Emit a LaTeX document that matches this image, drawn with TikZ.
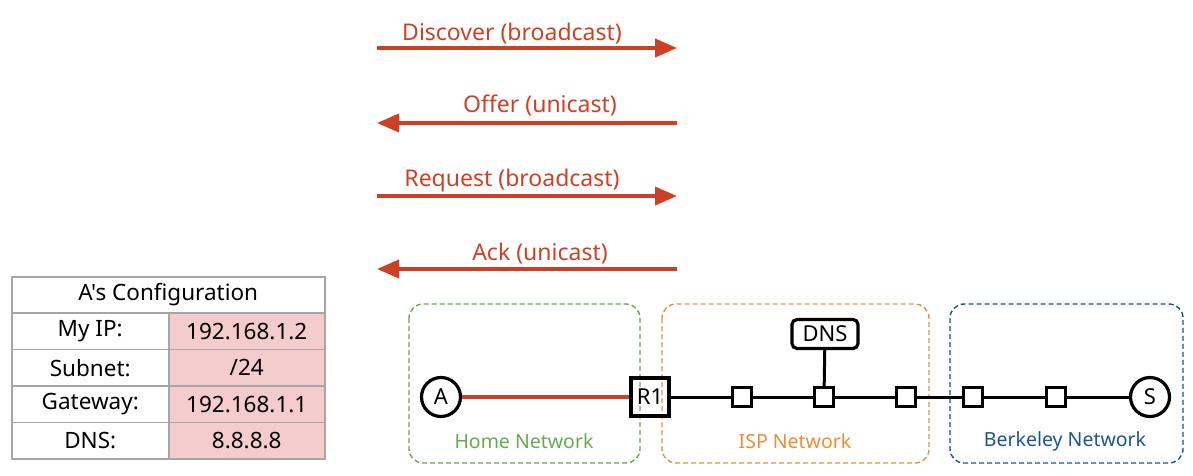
\documentclass[tikz,border=0pt]{standalone}
\usepackage{fontspec}
\setmainfont{Noto Sans}[Ligatures=TeXOff]
\usetikzlibrary{arrows.meta}
\definecolor{msgred}{HTML}{CC4125}
\definecolor{homegreen}{HTML}{6AA84F}
\definecolor{ispor}{HTML}{E69138}
\definecolor{berkblue}{HTML}{1C5592}
\definecolor{cellpink}{HTML}{F4CCCC}
\definecolor{tblgray}{HTML}{A6A6A6}
\begin{document}
\begin{tikzpicture}[x=1pt,y=-1pt,
  msg/.style={line width=3.6pt,draw=msgred,-{Triangle[length=22pt,width=18pt]}},
  msgtext/.style={text=msgred,font=\fontsize{23}{26}\selectfont,inner sep=0pt},
  cell/.style={draw=tblgray,line width=1.5pt,minimum height=36.4pt,inner sep=0pt,font=\fontsize{22.5}{26}\selectfont,anchor=north west},
  netbox/.style={line width=1.4pt,rounded corners=14pt,dash pattern=on 5pt off 3pt},
  netlabel/.style={font=\fontsize{19.5}{22}\selectfont,inner sep=0pt},
  host/.style={circle,draw,line width=3.2pt,minimum size=39pt,inner sep=0pt,font=\fontsize{22}{26}\selectfont},
  router/.style={rectangle,draw,line width=3.2pt,minimum size=38pt,inner sep=0pt,font=\fontsize{22}{26}\selectfont},
  sw/.style={rectangle,draw,fill=white,line width=3.2pt,minimum size=19pt,inner sep=0pt},
  dnsbox/.style={rectangle,rounded corners=5pt,draw,fill=white,line width=3.2pt,minimum width=66pt,minimum height=29pt,inner sep=0pt,font=\fontsize{22}{26}\selectfont},
  link/.style={line width=3pt,draw=black}
]
\useasboundingbox (0,0) rectangle (1193,475);

% DHCP messages
\coordinate (d1) at (377,48); \coordinate (d2) at (677,48);
\coordinate (o1) at (677,123); \coordinate (o2) at (377,123);
\coordinate (r1s) at (377,196); \coordinate (r1e) at (677,196);
\coordinate (a1) at (677,269); \coordinate (a2) at (377,269);
\draw[msg] (d1) -- (d2);
\draw[msg] (o1) -- (o2);
\draw[msg] (r1s) -- (r1e);
\draw[msg] (a1) -- (a2);
\node[msgtext] (tdisc) at (512,33.5) {Discover (broadcast)};
\node[msgtext] (toff) at (540,105.5) {Offer (unicast)};
\node[msgtext] (treq) at (512,180.5) {Request (broadcast)};
\node[msgtext] (tack) at (540,253.5) {Ack (unicast)};

% Table
\node[cell,minimum width=313pt] (hdr) at (11,276) {A's Configuration};
\node[cell,minimum width=157pt] (l1) at (11,312.4) {My IP:};
\node[cell,minimum width=156pt,fill=cellpink] (v1) at (168,312.4) {192.168.1.2};
\node[cell,minimum width=157pt] (l2) at (11,348.8) {Subnet:};
\node[cell,minimum width=156pt,fill=cellpink] (v2) at (168,348.8) {/24};
\node[cell,minimum width=157pt] (l3) at (11,385.2) {Gateway:};
\node[cell,minimum width=156pt,fill=cellpink] (v3) at (168,385.2) {192.168.1.1};
\node[cell,minimum width=157pt] (l4) at (11,421.6) {DNS:};
\node[cell,minimum width=156pt,fill=cellpink] (v4) at (168,421.6) {8.8.8.8};

% Networks
\draw[netbox,draw=homegreen] (409,304) rectangle (640,463);
\draw[netbox,draw=ispor] (662,304) rectangle (929,463);
\draw[netbox,draw=berkblue] (950,304) rectangle (1183,463);
\node[netlabel,text=homegreen] (lhome) at (524,441) {Home Network};
\node[netlabel,text=ispor] (lisp) at (795,441) {ISP Network};
\node[netlabel,text=berkblue] (lberk) at (1065,441) {Berkeley Network};

% Topology
\node[host] (A) at (441,397) {A};
\node[router] (R1) at (650,397) {R1};
\node[sw] (s1) at (742,397) {};
\node[sw] (s2) at (824,397) {};
\node[sw] (s3) at (906,397) {};
\node[sw] (s4) at (973,397) {};
\node[sw] (s5) at (1056,397) {};
\node[host] (S) at (1150,397) {S};
\node[dnsbox] (DNS) at (825,334) {DNS};
\draw[line width=4pt,draw=msgred] (A) -- (R1);
\draw[link] (R1) -- (s1);
\draw[link] (s1) -- (s2);
\draw[link] (s2) -- (s3);
\draw[link] (s3) -- (s4);
\draw[link] (s4) -- (s5);
\draw[link] (s5) -- (S);
\draw[link] (DNS) -- (s2);
\end{tikzpicture}
\end{document}
